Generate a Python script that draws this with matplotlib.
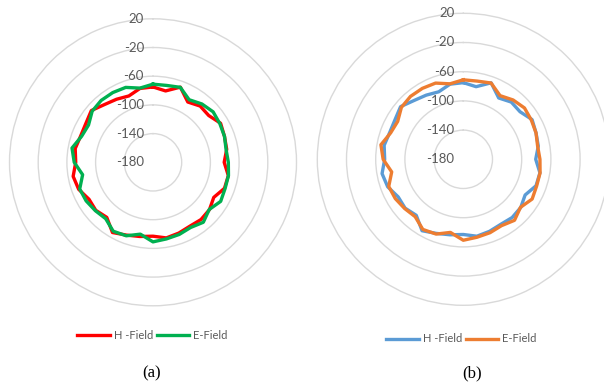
import numpy as np
import matplotlib.pyplot as plt
from matplotlib.lines import Line2D
from matplotlib.transforms import offset_copy

# Measured field levels, one sample every 10 degrees, clockwise from the top
angles_deg = list(range(0, 360, 10))
h_field = [-75.0, -79.0, -68.5, -83.0, -77.7, -78.6, -71.2, -74.0, -75.7, -80.8,
           -73.4, -74.0, -82.2, -77.3, -75.9, -77.2, -75.0, -73.0, -77.0, -75.0,
           -72.0, -67.0, -79.8, -75.9, -77.0, -69.8, -67.0, -72.3, -69.9, -72.7,
           -71.9, -67.8, -74.9, -78.5, -81.6, -75.5]
e_field = [-71.1, -71.2, -68.8, -79.3, -73.9, -70.6, -72.4, -74.0, -76.6, -75.0,
           -73.2, -73.1, -71.1, -77.7, -70.9, -75.1, -73.0, -71.6, -69.1, -78.3,
           -71.0, -69.1, -77.4, -75.1, -72.4, -71.3, -80.4, -70.2, -65.4, -74.1,
           -76.2, -69.3, -67.5, -67.8, -68.9, -75.0]

ring_values = [-180, -140, -100, -60, -20, 20]
series_labels = ["H -Field", "E-Field"]
panel_captions = ["(a)", "(b)"]
colors_a = ["#FF0000", "#00B050"]
colors_b = ["#5B9BD5", "#ED7D31"]

W, H = 604, 387
fig = plt.figure(figsize=(W / 100, H / 100), dpi=100)
fig.patch.set_facecolor("white")

label_color = "#595959"
grid_color = "#D9D9D9"


def draw_panel(cx, cy, radius, colors, legend_center, caption_center, caption):
    ax = fig.add_axes([(cx - radius) / W, (H - cy - radius) / H,
                       2 * radius / W, 2 * radius / H], projection="polar")
    ax.set_theta_zero_location("N")
    ax.set_theta_direction(-1)
    ax.set_ylim(ring_values[0], ring_values[-1])
    ax.set_xticks([])
    ax.set_yticks(ring_values[1:-1])
    ax.set_yticklabels([])
    ax.tick_params(length=0)
    ax.yaxis.grid(True, color=grid_color, linewidth=1.0)
    ax.xaxis.grid(False)
    ax.spines["polar"].set_color(grid_color)
    ax.spines["polar"].set_linewidth(1.0)

    theta = np.deg2rad(angles_deg + [angles_deg[0]])
    handles = []
    for values, color, label in zip([h_field, e_field], colors, series_labels):
        ln, = ax.plot(theta, values + [values[0]], color=color, linewidth=2.4,
                      solid_joinstyle="round", label=label)
        handles.append(ln)

    shift = offset_copy(ax.transData, fig=fig, x=-9, y=0, units="dots")
    for v in ring_values:
        ax.text(0, v, str(v), transform=shift, ha="right", va="center",
                fontsize=9.5, color=label_color, family="Lato", clip_on=False)

    fig.legend(handles=handles, labels=series_labels, loc="center",
               bbox_to_anchor=(legend_center[0] / W, 1 - legend_center[1] / H),
               ncol=2, frameon=False, fontsize=8, handlelength=2.9,
               handletextpad=0.4, columnspacing=0.3, labelcolor=label_color,
               prop={"family": "Lato", "size": 8})

    fig.text(caption_center[0] / W, 1 - caption_center[1] / H, caption,
             ha="center", va="center", fontsize=12, family="Liberation Serif")


draw_panel(153, 162.3, 143.5, colors_a, (152.5, 335.7), (151.7, 373), panel_captions[0])
draw_panel(463.3, 159.3, 146, colors_b, (461.5, 339), (471.7, 373), panel_captions[1])

fig.savefig("out.png", dpi=100, facecolor="white")
